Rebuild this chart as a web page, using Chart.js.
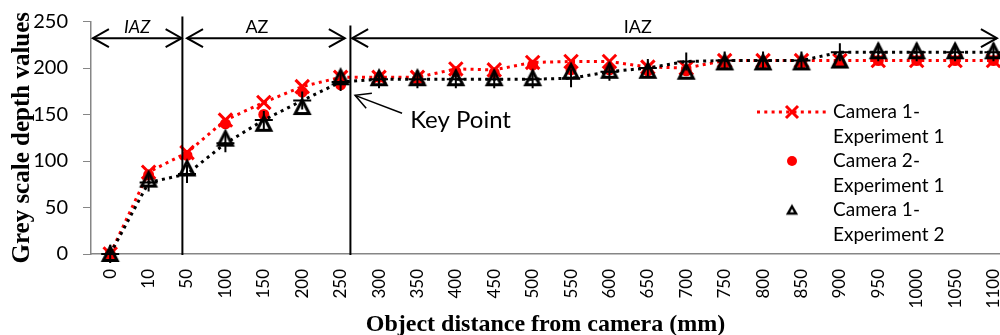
<!DOCTYPE html>
<html><head><meta charset="utf-8">
<script src="https://cdn.jsdelivr.net/npm/chart.js@4.4.1/dist/chart.umd.min.js"></script>
<style>
html,body{margin:0;padding:0;background:#fff;overflow:hidden}
#wrap{width:1000px;height:335px;position:relative}
canvas{display:block}
</style>
</head><body>
<div id="wrap"><canvas id="c"></canvas></div>
<script>
// ---- data ----
const categories = ['0','10','50','100','150','200','250','300','350','400','450','500','550','600','650','700','750','800','850','900','950','1000','1050','1100'];
const cam1Exp1 = [0, 88, 109, 144, 163, 180, 190, 190, 190, 199, 198, 206, 207, 207, 201, 200, 208, 208, 208, 208, 208, 208, 208, 208];
const cam2Exp1 = [0, 85, 106, 140, 150, 174, 182, 190, 188, 196, 195, 203, 198, 198, 197, 197, 205, 205, 205, 206, 208, 208, 208, 208];
const cam1Exp2 = [0, 80, 92, 124, 140, 158, 190, 189, 189, 189, 189, 189, 196, 197, 197, 196, 206, 206, 206, 208, 218, 218, 218, 218];
const cam2Exp2 = [0, 77, 86, 119, 144, 165, 185, 188, 188, 188, 188, 188, 189, 196, 200, 207, 208, 208, 208, 217, 217, 217, 217, 217];
const seriesNames = ['Camera 1-Experiment 1', 'Camera 2-Experiment 1', 'Camera 1-Experiment 2', 'Camera 2-Experiment 2'];
const yTicks = [0, 50, 100, 150, 200, 250];
const xTitle = 'Object distance from camera (mm)';
const yTitle = 'Grey scale depth values';
const zoneLabels = ['IAZ', 'AZ', 'IAZ'];
const keyPointLabel = 'Key Point';

// ---- visible x window (category index units); the plot runs past the right edge ----
const xMin = -0.5, xMax = 23.17;

// ---- annotation geometry (in axis units: category index / value) ----
const zoneDividers = [{at: 1.88, top: 255.4}, {at: 6.255, top: 245.7}];
const zoneArrows = [{from: -0.45, to: 1.86}, {from: 2.0, to: 6.11}, {from: 6.30, to: 23.09}];
const arrowLevel = 232;
const zoneLabelPos = [{at: 0.70, italic: true}, {at: 3.82, italic: false}, {at: 13.74, italic: false}];
const zoneLabelLevel = 243.6;
const keyArrow = {tipX: 6.375, tipY: 170.6, tailX: 7.6, tailY: 151.3, textX: 7.81, textY: 135.2};

const RED = '#ff0000', BLACK = '#000000', AXIS = '#868686';

const toPoints = arr => arr.map((v, i) => ({x: i, y: v}));

function makeTriangle(w, h, lw) {
  const pad = 5;
  const c = document.createElement('canvas');
  c.width = Math.round(w + 2 * pad); c.height = Math.round(h + 2 * pad);
  const g = c.getContext('2d');
  g.lineWidth = lw; g.strokeStyle = BLACK; g.lineJoin = 'miter';
  g.beginPath();
  g.moveTo(c.width / 2, pad);
  g.lineTo(c.width / 2 + w / 2, pad + h);
  g.lineTo(c.width / 2 - w / 2, pad + h);
  g.closePath();
  g.stroke();
  return c;
}
const triImg = makeTriangle(14, 13.5, 3);
const triLegend = makeTriangle(8, 7, 2.5);

function arrowHead(ctx, tx, ty, fx, fy, len, half) {
  const a = Math.atan2(ty - fy, tx - fx);
  const bx = tx - Math.cos(a) * len, by = ty - Math.sin(a) * len;
  const px = -Math.sin(a) * half, py = Math.cos(a) * half;
  ctx.beginPath();
  ctx.moveTo(bx + px, by + py);
  ctx.lineTo(tx, ty);
  ctx.lineTo(bx - px, by - py);
  ctx.stroke();
}

const zonePlugin = {
  id: 'zones',
  afterDatasetsDraw(chart) {
    const {ctx, scales: {x, y}} = chart;
    ctx.save();
    ctx.strokeStyle = BLACK; ctx.fillStyle = BLACK; ctx.lineWidth = 2; ctx.setLineDash([]);
    zoneDividers.forEach(d => {
      const px = x.getPixelForValue(d.at);
      ctx.beginPath(); ctx.moveTo(px, y.getPixelForValue(d.top)); ctx.lineTo(px, y.getPixelForValue(0) + 1); ctx.stroke();
    });
    const ay = y.getPixelForValue(arrowLevel);
    zoneArrows.forEach(a => {
      const x1 = x.getPixelForValue(a.from), x2 = x.getPixelForValue(a.to);
      ctx.beginPath(); ctx.moveTo(x1, ay); ctx.lineTo(x2, ay); ctx.stroke();
      arrowHead(ctx, x1, ay, x2, ay, 16, 9);
      arrowHead(ctx, x2, ay, x1, ay, 16, 9);
    });
    ctx.textAlign = 'center'; ctx.textBaseline = 'middle';
    const ly = y.getPixelForValue(zoneLabelLevel);
    zoneLabelPos.forEach((p, i) => {
      ctx.font = (p.italic ? 'italic ' : '') + '18px Lato';
      ctx.fillText(zoneLabels[i], x.getPixelForValue(p.at), ly);
    });
    // key point
    const tx = x.getPixelForValue(keyArrow.tipX), ty = y.getPixelForValue(keyArrow.tipY);
    const fx = x.getPixelForValue(keyArrow.tailX), fy = y.getPixelForValue(keyArrow.tailY);
    ctx.lineWidth = 1.5;
    ctx.beginPath(); ctx.moveTo(fx, fy); ctx.lineTo(tx, ty); ctx.stroke();
    arrowHead(ctx, tx, ty, fx, fy, 15, 8);
    ctx.font = '24px Lato'; ctx.textAlign = 'left'; ctx.textBaseline = 'alphabetic';
    ctx.fillText(keyPointLabel, x.getPixelForValue(keyArrow.textX), y.getPixelForValue(keyArrow.textY));
    ctx.restore();
  }
};

const legendPlugin = {
  id: 'sideLegend',
  afterDraw(chart) {
    const ctx = chart.ctx;
    ctx.save();
    ctx.font = '19px Lato'; ctx.fillStyle = '#000'; ctx.textBaseline = 'middle'; ctx.textAlign = 'left';
    [0, 1, 2].forEach((di, k) => {
      const ds = chart.data.datasets[di];
      const yy = 112 + k * 49, mx = 792;
      if (ds.showLine !== false) {
        ctx.strokeStyle = ds.borderColor; ctx.lineWidth = ds.borderWidth; ctx.setLineDash(ds.borderDash);
        ctx.beginPath(); ctx.moveTo(757, yy); ctx.lineTo(827, yy); ctx.stroke(); ctx.setLineDash([]);
      }
      if (ds.pointStyle === 'crossRot') {
        const r = 6;
        ctx.strokeStyle = ds.pointBorderColor; ctx.lineWidth = 3;
        ctx.beginPath(); ctx.moveTo(mx - r, yy - r); ctx.lineTo(mx + r, yy + r); ctx.moveTo(mx + r, yy - r); ctx.lineTo(mx - r, yy + r); ctx.stroke();
      } else if (ds.pointStyle === 'circle') {
        ctx.fillStyle = ds.pointBackgroundColor;
        ctx.beginPath(); ctx.arc(mx, yy, 5, 0, Math.PI * 2); ctx.fill();
      } else {
        ctx.drawImage(triLegend, mx - triLegend.width / 2, yy - triLegend.height / 2);
      }
      const idx = ds.label.indexOf('-');
      ctx.fillStyle = '#000';
      ctx.fillText(ds.label.slice(0, idx + 1), 833, yy);
      ctx.fillText(ds.label.slice(idx + 1), 833, yy + 24.5);
    });
    ctx.restore();
  }
};

new Chart(document.getElementById('c'), {
  type: 'line',
  data: {
    datasets: [
      {label: seriesNames[0], data: toPoints(cam1Exp1), borderColor: RED, borderWidth: 3, borderDash: [3, 4.3],
       pointStyle: 'crossRot', pointRadius: 9.5, pointBorderWidth: 3, pointBorderColor: RED, pointBackgroundColor: RED,
       showLine: true, order: 4, clip: false},
      {label: seriesNames[1], data: toPoints(cam2Exp1), showLine: false, borderColor: RED,
       pointStyle: 'circle', pointRadius: 5.5, pointBorderWidth: 0, pointBackgroundColor: RED, pointBorderColor: RED,
       order: 3, clip: false},
      {label: seriesNames[2], data: toPoints(cam1Exp2), showLine: false, borderColor: BLACK,
       pointStyle: triImg, pointRadius: 10, order: 2, clip: false},
      {label: seriesNames[3], data: toPoints(cam2Exp2), borderColor: BLACK, borderWidth: 3, borderDash: [3, 4.3],
       pointStyle: 'cross', pointRadius: 9, pointBorderWidth: 2, pointBorderColor: BLACK, pointBackgroundColor: BLACK,
       showLine: true, order: 1, clip: false}
    ]
  },
  options: {
    responsive: true, maintainAspectRatio: false, animation: false, devicePixelRatio: 1, events: [],
    layout: {autoPadding: false, padding: {top: 21.5, left: 0, right: 0, bottom: 0}},
    plugins: {legend: {display: false}, tooltip: {enabled: false}},
    elements: {line: {tension: 0, borderCapStyle: 'butt'}},
    scales: {
      x: {
        type: 'linear', min: xMin, max: xMax,
        afterBuildTicks(s) { s.ticks = categories.map((c, i) => ({value: i})); },
        ticks: {color: '#000', font: {family: 'Lato', size: 17}, minRotation: 90, maxRotation: 90, autoSkip: false, padding: 15,
                callback: v => categories[v]},
        grid: {display: false, drawTicks: false},
        border: {display: true, color: AXIS, width: 1.5},
        title: {display: true, text: xTitle, color: '#000',
                font: {family: 'Liberation Serif', size: 24, weight: 'bold', lineHeight: 0.84}, padding: {top: 0, bottom: 0}},
        afterFit(s) { s.height = 81; s.paddingLeft = 0; s.paddingRight = 0; }
      },
      y: {
        min: 0, max: 250,
        afterBuildTicks(s) { s.ticks = yTicks.map(v => ({value: v})); },
        ticks: {color: '#000', font: {family: 'Lato', size: 20}, padding: 15},
        grid: {display: true, drawOnChartArea: false, drawTicks: true, tickLength: 8, color: AXIS, lineWidth: 1},
        border: {display: true, color: AXIS, width: 1.5},
        title: {display: true, text: yTitle, color: '#000',
                font: {family: 'Liberation Serif', size: 25, weight: 'bold', lineHeight: 0.84}, padding: {top: 12, bottom: 0}},
        afterFit(s) { s.width = 91; s.paddingTop = 0; s.paddingBottom = 0; }
      }
    }
  },
  plugins: [zonePlugin, legendPlugin]
});
</script>
</body></html>
